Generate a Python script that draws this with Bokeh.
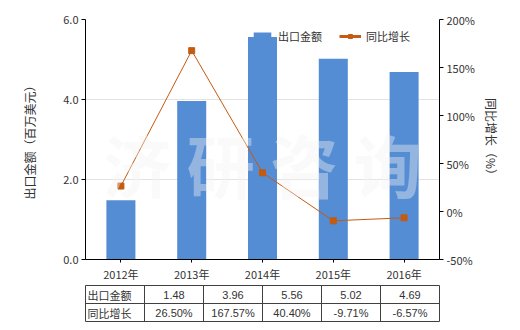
from bokeh.plotting import figure
from bokeh.models import (Range1d, LinearAxis, FixedTicker, PrintfTickFormatter,
                          Legend, LegendItem, Label, FactorRange, ColumnDataSource)
from bokeh.layouts import column
from bokeh.embed import file_html
from bokeh.resources import INLINE
from bokeh.core.properties import value

years = ["2012年", "2013年", "2014年", "2015年", "2016年"]
export_value = [1.48, 3.96, 5.56, 5.02, 4.69]
growth_pct = [26.50, 167.57, 40.40, -9.71, -6.57]
left_ticks = [0, 2, 4, 6]
right_ticks = [-50, 0, 50, 100, 150, 200]
row_names = ["出口金额", "同比增长"]

CJK = "Noto Sans CJK SC"
NUM = "Liberation Sans"
BAR = "#548DD4"
LINE = "#C55A11"
TXT = "#333333"

p = figure(width=520, height=284, x_range=FactorRange(*years, range_padding=0),
           y_range=Range1d(0, 6), output_backend="svg", toolbar_location=None,
           min_border_left=85, min_border_right=81, min_border_top=19, min_border_bottom=22)
p.outline_line_color = None
p.background_fill_color = "white"
p.border_fill_color = "white"
p.extra_y_ranges = {"pct": Range1d(-50, 200)}

src = ColumnDataSource(dict(x=years, v=export_value, g=growth_pct))
bars = p.vbar(x="x", top="v", width=0.41, source=src, fill_color=BAR, line_color=None)
ln = p.line(x="x", y="g", source=src, y_range_name="pct", line_color=LINE, line_width=1)
sc = p.scatter(x="x", y="g", source=src, y_range_name="pct", marker="square", size=6,
               fill_color=LINE, line_color=LINE)
# legend-only line (no drawable points in the plot)
leg_line = p.line(x=years, y=[float("nan")] * len(years), y_range_name="pct",
                  line_color=LINE, line_width=3)

p.xgrid.visible = False
p.ygrid.ticker = FixedTicker(ticks=left_ticks)
p.ygrid.grid_line_color = "#E3E3E3"

yl = p.yaxis[0]
yl.ticker = FixedTicker(ticks=left_ticks)
yl.formatter = PrintfTickFormatter(format="%.1f")
yl.axis_label = "出口金额（百万美元）"

yr = LinearAxis(y_range_name="pct", ticker=FixedTicker(ticks=right_ticks),
                formatter=PrintfTickFormatter(format="%d%%"), axis_label="同比增长（%）")
p.add_layout(yr, "right")

xa = p.xaxis[0]
for ax in (yl, yr, xa):
    ax.axis_line_color = "black"
    ax.axis_line_width = 1
    ax.major_tick_line_color = "black"
    ax.major_tick_in = 0
    ax.major_tick_out = 4
    ax.minor_tick_line_color = None
    ax.major_label_text_font = CJK
    ax.major_label_text_font_size = "11px"
    ax.major_label_text_color = TXT
    ax.major_label_standoff = 3
    ax.axis_label_text_font = CJK
    ax.axis_label_text_font_size = "12px"
    ax.axis_label_text_font_style = "normal"
    ax.axis_label_text_color = TXT
xa.major_tick_out = 3
yl.axis_label_standoff = 22
yr.axis_label_standoff = 5

legend = Legend(items=[LegendItem(label="出口金额", renderers=[bars]),
                       LegendItem(label="同比增长", renderers=[leg_line, sc])],
                location=(166, 215), orientation="horizontal")
legend.border_line_color = None
legend.background_fill_alpha = 0
legend.padding = 0
legend.margin = 0
legend.spacing = 17
legend.label_standoff = 5
legend.glyph_width = 22
legend.glyph_height = 10
legend.label_height = 10
legend.label_text_font = CJK
legend.label_text_font_size = "11px"
legend.label_text_color = TXT
p.add_layout(legend)

wm = Label(x=2.5, y=2.4, text="济 研 咨 询", text_align="center", text_baseline="middle",
           text_font=CJK, text_font_size="68px", text_font_style="bold",
           text_color="#F2F2F2", text_alpha=0.4)
p.add_layout(wm)

# data table below the chart
n = len(years)
t = figure(width=520, height=46, x_range=Range1d(-1, n), y_range=Range1d(0, 2),
           output_backend="svg", toolbar_location=None,
           x_axis_location=None, y_axis_location=None,
           min_border_left=15, min_border_right=81, min_border_top=1, min_border_bottom=9)
t.grid.visible = False
t.outline_line_color = "#404040"
t.outline_line_width = 1
t.border_fill_color = "white"
xs = list(range(n))
t.segment(x0=xs, x1=xs, y0=[0] * n, y1=[2] * n, line_color="#404040", line_width=1)
t.segment(x0=[-1], x1=[n], y0=[1], y1=[1], line_color="#404040", line_width=1)
t.text(x=[-1, -1], y=[1.5, 0.5], text=row_names, x_offset=2, text_align="left",
       text_baseline="middle", text_font=value(CJK), text_font_size="11px", text_color=TXT)
cx = [i + 0.5 for i in range(n)]
t.text(x=cx, y=[1.5] * n, text=[f"{v:.2f}" for v in export_value], text_align="center",
       text_baseline="middle", text_font=value(NUM), text_font_size="11px", text_color=TXT)
t.text(x=cx, y=[0.5] * n, text=[f"{g:.2f}%" for g in growth_pct], text_align="center",
       text_baseline="middle", text_font=value(NUM), text_font_size="11px", text_color=TXT)

layout = column(p, t, spacing=0)
open("out.html", "w").write(file_html(layout, INLINE))
